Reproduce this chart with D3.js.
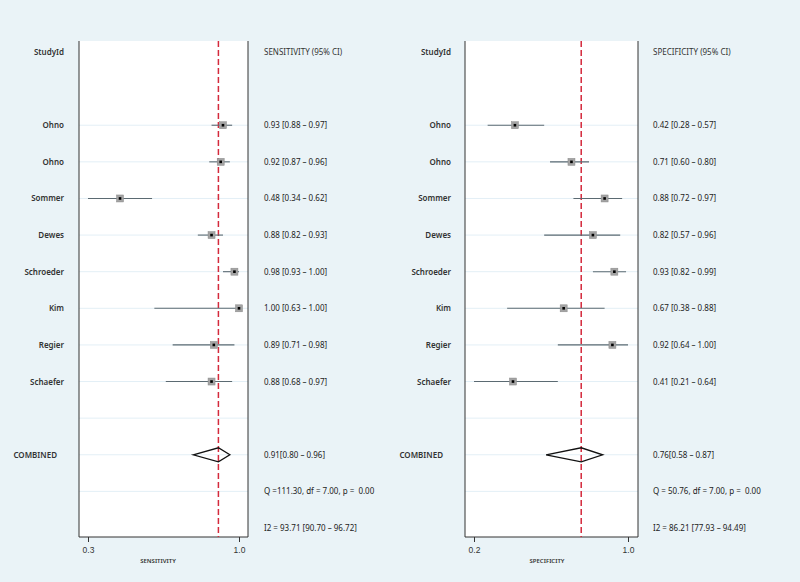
<!DOCTYPE html>
<html><head><meta charset="utf-8">
<script src="https://cdn.jsdelivr.net/npm/d3@7/dist/d3.min.js"></script>
<style>
html,body{margin:0;padding:0;background:#eaf3f7;}
svg{display:block;font-family:"Noto Sans",sans-serif;}
text{white-space:pre;}
</style></head><body>
<svg id="c" width="800" height="582"></svg>
<script>
const studies = ["Ohno","Ohno","Sommer","Dewes","Schroeder","Kim","Regier","Schaefer"];
const sens   = [0.93,0.92,0.48,0.88,0.98,1.00,0.89,0.88];
const sensLo = [0.88,0.87,0.34,0.82,0.93,0.63,0.71,0.68];
const sensHi = [0.97,0.96,0.62,0.93,1.00,1.00,0.98,0.97];
const spec   = [0.42,0.71,0.88,0.82,0.93,0.67,0.92,0.41];
const specLo = [0.28,0.60,0.72,0.57,0.82,0.38,0.64,0.21];
const specHi = [0.57,0.80,0.97,0.96,0.99,0.88,1.00,0.64];
const sensCombined = [0.91,0.80,0.96];
const specCombined = [0.76,0.58,0.87];
const sensHet = {Q:"111.30", df:"7.00", p:"0.00", I2:"93.71", I2lo:"90.70", I2hi:"96.72"};
const specHet = {Q:"50.76", df:"7.00", p:"0.00", I2:"86.21", I2lo:"77.93", I2hi:"94.49"};
const sensTicks = [0.34,1.0], sensTickLabels = ["0.3","1.0"];
const specTicks = [0.21,1.0], specTickLabels = ["0.2","1.0"];

const svg = d3.select("#c");
const f2 = d3.format(".2f");
const y = d3.scaleLinear().domain([0,13]).range([52,528]);
const FS = 8;

function panel(o){
  const g = svg.append("g");
  const x = d3.scaleLinear().domain(o.domain).range(o.range);
  g.append("rect").attr("x",o.left).attr("y",41).attr("width",o.right-o.left).attr("height",537-41).attr("fill","#fff");
  g.selectAll(".grid").data(d3.range(2,13)).join("line")
    .attr("x1",o.left).attr("x2",o.right).attr("y1",d=>y(d)).attr("y2",d=>y(d))
    .attr("stroke","#e3eff6").attr("stroke-width",1);
  g.append("path").attr("d",`M${o.left},41V537H${o.right}V41`).attr("fill","none").attr("stroke","#333").attr("stroke-width",1);
  const ax = d3.axisBottom(x).tickValues(o.ticks).tickSize(5).tickFormat((d,i)=>o.tickLabels[i]);
  const axg = g.append("g").attr("transform","translate(0,537)").call(ax);
  axg.select(".domain").remove();
  axg.selectAll("line").attr("stroke","#333");
  axg.selectAll("text").attr("font-size",8.5).attr("fill","#333").attr("font-family","inherit").attr("dy","0.9em");
  g.append("text").attr("x",o.titleX).attr("y",563).attr("text-anchor","middle").attr("font-size",6).attr("font-weight",600).attr("fill","#333").text(o.title);
  g.append("text").attr("x",o.labelX).attr("y",y(0)+3).attr("text-anchor","end").attr("font-size",FS).attr("font-weight",600).attr("fill","#333").text("StudyId");
  g.append("text").attr("x",o.valX).attr("y",y(0)+3).attr("font-size",FS).attr("fill","#333").text(o.header);
  g.append("line").attr("x1",x(o.comb[0])).attr("x2",x(o.comb[0])).attr("y1",41).attr("y2",537)
    .attr("stroke","#d42a3c").attr("stroke-width",1.5).attr("stroke-dasharray","6,3");
  const rows = studies.map((s,i)=>({s, v:o.v[i], lo:o.lo[i], hi:o.hi[i], r:i+2}));
  g.selectAll(".ci").data(rows).join("line")
    .attr("x1",d=>x(d.lo)).attr("x2",d=>x(d.hi)).attr("y1",d=>y(d.r)).attr("y2",d=>y(d.r))
    .attr("stroke","#5b6a72").attr("stroke-width",1.1);
  g.selectAll(".sq").data(rows).join("rect")
    .attr("x",d=>x(d.v)-3.5).attr("y",d=>y(d.r)-3.5).attr("width",7).attr("height",7)
    .attr("fill","#a3a3a3").attr("stroke","#8a8a8a").attr("stroke-width",0.5);
  g.selectAll(".dot").data(rows).join("rect")
    .attr("x",d=>x(d.v)-1.3).attr("y",d=>y(d.r)-1.3).attr("width",2.6).attr("height",2.6).attr("fill","#000");
  g.selectAll(".lab").data(rows).join("text")
    .attr("x",o.labelX).attr("y",d=>y(d.r)+3).attr("text-anchor","end").attr("font-size",FS).attr("font-weight",600).attr("fill","#333").text(d=>d.s);
  g.selectAll(".val").data(rows).join("text")
    .attr("x",o.valX).attr("y",d=>y(d.r)+3).attr("font-size",FS).attr("fill","#222")
    .text(d=>`${f2(d.v)} [${f2(d.lo)} – ${f2(d.hi)}]`);
  const cy = y(11);
  g.append("path").attr("d",`M${x(o.comb[1])},${cy}L${x(o.comb[0])},${cy-7}L${x(o.comb[2])},${cy}L${x(o.comb[0])},${cy+7}Z`)
    .attr("fill","none").attr("stroke","#111").attr("stroke-width",1.3);
  g.append("text").attr("x",o.combX).attr("y",cy+3).attr("text-anchor","end").attr("font-size",FS).attr("font-weight",600).attr("fill","#333").text("COMBINED");
  g.append("text").attr("x",o.valX).attr("y",cy+3).attr("font-size",FS).attr("fill","#222")
    .text(`${f2(o.comb[0])}[${f2(o.comb[1])} – ${f2(o.comb[2])}]`);
  g.append("text").attr("x",o.valX).attr("y",y(12)+3).attr("font-size",FS).attr("fill","#222")
    .text(o.qText);
  g.append("text").attr("x",o.valX).attr("y",y(13)+3).attr("font-size",FS).attr("fill","#222")
    .text(`I2 = ${o.het.I2} [${o.het.I2lo} – ${o.het.I2hi}]`);
}

panel({left:79,right:248,domain:[sensTicks[0],sensTicks[1]],range:[88,239],ticks:sensTicks,tickLabels:sensTickLabels,
  title:"SENSITIVITY",titleX:158,labelX:64,combX:57,valX:264,header:"SENSITIVITY (95% CI)",
  v:sens,lo:sensLo,hi:sensHi,comb:sensCombined,het:sensHet,
  qText:`Q =${sensHet.Q}, df = ${sensHet.df}, p =  ${sensHet.p}`});
panel({left:465,right:638,domain:[specTicks[0],specTicks[1]],range:[474,628],ticks:specTicks,tickLabels:specTickLabels,
  title:"SPECIFICITY",titleX:547,labelX:451,combX:443,valX:653,header:"SPECIFICITY (95% CI)",
  v:spec,lo:specLo,hi:specHi,comb:specCombined,het:specHet,
  qText:`Q = ${specHet.Q}, df = ${specHet.df}, p =  ${specHet.p}`});
</script>
</body></html>
